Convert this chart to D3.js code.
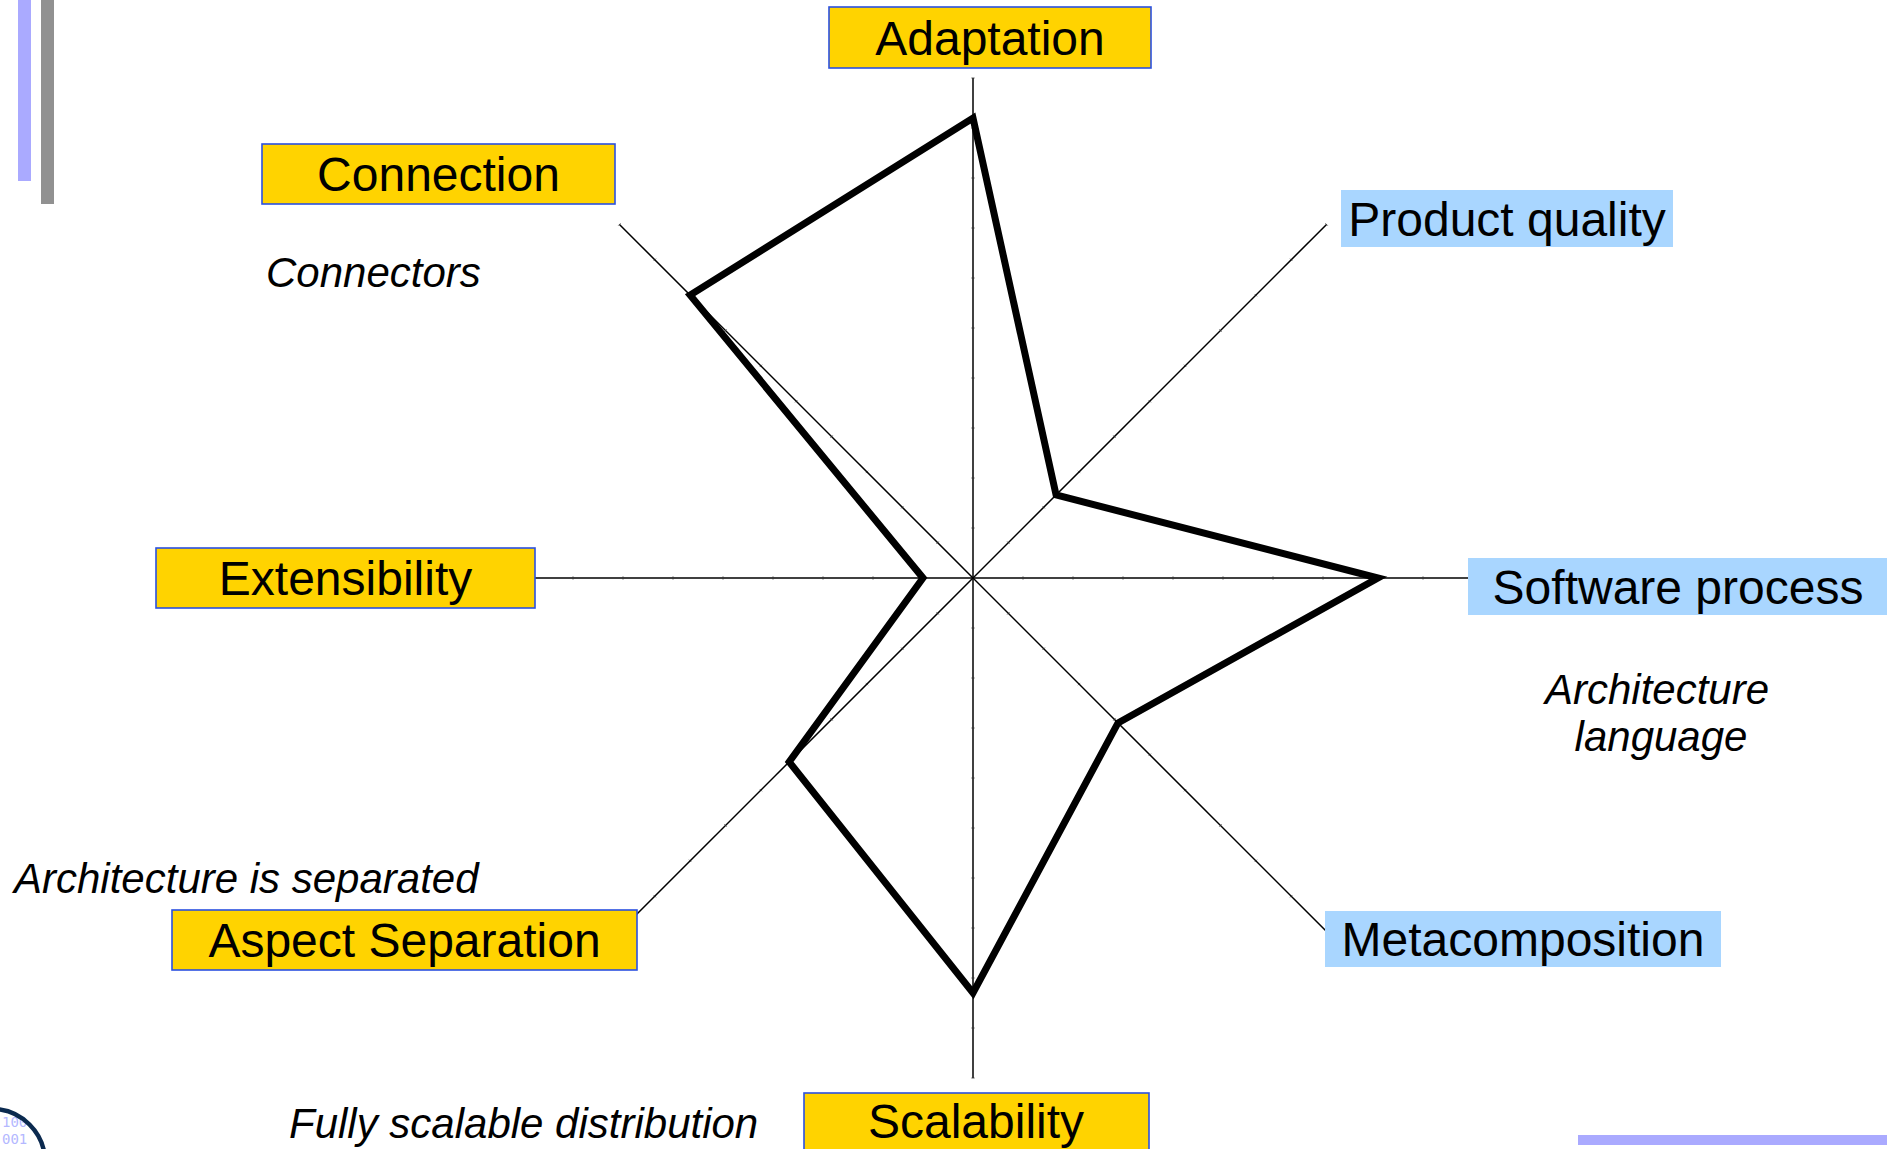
<!DOCTYPE html>
<meta charset="utf-8">
<head>
  <script src="https://d3js.org/d3.v7.min.js"></script>
  <style>
    body { margin: 0; background: #fff; }
    svg { display: block; font-family: "Liberation Sans", Arial, sans-serif; }
  </style>
</head>
<body>
<div id="radar"></div>
<script>

// the eight criteria, clockwise from the top
var axes = ["Adaptation", "Product quality", "Software process", "Metacomposition",
            "Scalability", "Aspect Separation", "Extensibility", "Connection"];
// score on each criterion (0..1 of the axis length)
var scores = [0.92, 0.235, 0.81, 0.41, 0.83, 0.52, 0.10, 0.80];
// which kind of criterion (decides the box colour)
var kinds = ["core", "process", "process", "process", "core", "core", "core", "core"];
// remarks written next to some criteria
var notes = ["Connectors", "Architecture\nlanguage", "Architecture is separated", "Fully scalable distribution"];

var width = 1887, height = 1149;
var cx = 973, cy = 578, R = 500;

var svg = d3.select("#radar")
  .append("svg")
    .attr("width", width)
    .attr("height", height);

// slide decorations
svg.append("rect").attr("x", 18).attr("y", 0).attr("width", 13).attr("height", 181).attr("fill", "#aaaaff");
svg.append("rect").attr("x", 41).attr("y", 0).attr("width", 13).attr("height", 204).attr("fill", "#919191");
svg.append("rect").attr("x", 1578).attr("y", 1135).attr("width", 309).attr("height", 10).attr("fill", "#aaaaff");
var logo = svg.append("g");
logo.append("text").attr("x", 2).attr("y", 1127).attr("font-size", 14).attr("font-family", "DejaVu Sans Mono")
  .attr("fill", "#b4b8ff").text("100");
logo.append("text").attr("x", 2).attr("y", 1144).attr("font-size", 14).attr("font-family", "DejaVu Sans Mono")
  .attr("fill", "#b4b8ff").text("001");
logo.append("circle").attr("cx", -8).attr("cy", 1162).attr("r", 53)
  .attr("fill", "none").attr("stroke", "#0b2a4f").attr("stroke-width", 4.5);

var g = svg.append("g")
  .attr("transform", "translate(" + cx + "," + cy + ")");

var r = d3.scaleLinear().domain([0, 1]).range([0, R]);
var angle = d3.scaleLinear().domain([0, axes.length]).range([0, 2 * Math.PI]);

// axes with tiny tick marks
axes.forEach(function(name, i) {
  var a = angle(i);
  var end = d3.pointRadial(a, r(1));
  g.append("line")
    .attr("x1", 0).attr("y1", 0)
    .attr("x2", end[0]).attr("y2", end[1])
    .attr("stroke", "#000").attr("stroke-width", 1.5);
  r.ticks(10).slice(1).forEach(function(t) {
    var p = d3.pointRadial(a, r(t));
    var nx = Math.cos(a) * 1.6, ny = Math.sin(a) * 1.6;
    g.append("line")
      .attr("x1", p[0] - nx).attr("y1", p[1] - ny)
      .attr("x2", p[0] + nx).attr("y2", p[1] + ny)
      .attr("stroke", "#333").attr("stroke-width", 0.8);
  });
});

// the score polygon
var radarLine = d3.lineRadial()
  .angle(function(d, i) { return angle(i); })
  .radius(function(d) { return r(d); })
  .curve(d3.curveLinearClosed);

g.append("path")
  .datum(scores)
  .attr("d", radarLine)
  .attr("fill", "none")
  .attr("stroke", "#000")
  .attr("stroke-width", 7)
  .attr("stroke-linejoin", "miter");

// label boxes (page layout)
var boxes = {
  "Adaptation":        {x: 829,  y: 7,    w: 322, h: 61},
  "Product quality":   {x: 1341, y: 190,  w: 332, h: 57},
  "Software process":  {x: 1468, y: 558,  w: 440, h: 57, tx: 1678},
  "Metacomposition":   {x: 1325, y: 911,  w: 396, h: 56},
  "Scalability":       {x: 804,  y: 1093, w: 345, h: 70, tx: 976, ty: 1138},
  "Aspect Separation": {x: 172,  y: 910,  w: 465, h: 60},
  "Extensibility":     {x: 156,  y: 548,  w: 379, h: 60},
  "Connection":        {x: 262,  y: 144,  w: 353, h: 60}
};
var fills = {core: "#ffd300", process: "#a9d6ff"};
var borders = {core: "#2b50e0", process: "none"};

axes.forEach(function(name, i) {
  var b = boxes[name];
  svg.append("rect")
    .attr("x", b.x).attr("y", b.y)
    .attr("width", b.w).attr("height", b.h)
    .attr("fill", fills[kinds[i]])
    .attr("stroke", borders[kinds[i]])
    .attr("stroke-width", 1.6);
  svg.append("text")
    .attr("x", b.tx || b.x + b.w / 2)
    .attr("y", b.ty || b.y + b.h / 2 + 17)
    .attr("text-anchor", "middle")
    .attr("font-size", 48)
    .attr("fill", "#000")
    .text(name);
});

// italic remarks
var notePos = [
  {x: 266, y: 287, anchor: "start"},
  {x: 1657, y: 704, anchor: "middle"},
  {x: 14, y: 893, anchor: "start"},
  {x: 289, y: 1138, anchor: "start"}
];
notes.forEach(function(txt, i) {
  var p = notePos[i];
  var t = svg.append("text")
    .attr("text-anchor", p.anchor)
    .attr("font-size", 42)
    .attr("font-style", "italic")
    .attr("fill", "#000");
  txt.split("\n").forEach(function(line, k) {
    t.append("tspan")
      .attr("x", p.x + (k ? 4 : 0))
      .attr("y", p.y + k * 47)
      .text(line);
  });
});

</script>
</body>
